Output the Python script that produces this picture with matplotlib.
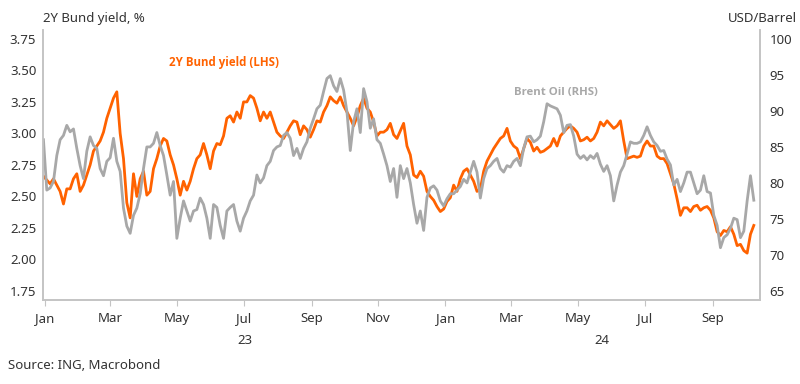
import pandas as pd
import matplotlib
matplotlib.use("Agg")
import matplotlib.pyplot as plt
import matplotlib.dates as mdates

plt.rcParams["font.family"] = ["Noto Sans", "DejaVu Sans"]

# 2Y Bund yield (%), roughly every 3 days from end Dec 2022
bund_2y = [
    2.66, 2.63, 2.60, 2.64, 2.59, 2.54, 2.44, 2.56, 2.56, 2.64,
    2.68, 2.54, 2.59, 2.67, 2.75, 2.86, 2.90, 2.94, 3.01, 3.12,
    3.20, 3.28, 3.33, 3.00, 2.80, 2.45, 2.33, 2.68, 2.50, 2.64,
    2.70, 2.51, 2.54, 2.72, 2.80,
    2.90, 2.96, 2.94, 2.83, 2.75, 2.64, 2.51, 2.62, 2.55, 2.62,
    2.72, 2.80, 2.83, 2.92, 2.83, 2.72, 2.86, 2.92, 2.91, 2.98,
    3.12, 3.14, 3.09, 3.17, 3.12, 3.25, 3.25, 3.30, 3.28, 3.20,
    3.10, 3.17, 3.12, 3.17, 3.09, 3.01,
    2.98, 2.96, 3.01, 3.06, 3.10, 3.09, 2.99, 3.06, 3.03, 2.97,
    3.03, 3.10, 3.09, 3.17, 3.22, 3.29, 3.26, 3.24, 3.29, 3.22,
    3.17, 3.12, 3.06, 3.13, 3.22, 3.28, 3.20, 3.17, 3.09, 2.98,
    3.01, 3.01, 3.03, 3.08, 2.99, 2.96,
    3.02, 3.08, 2.90, 2.83, 2.67, 2.65, 2.70, 2.66, 2.54, 2.50,
    2.47, 2.42, 2.38, 2.40, 2.46, 2.49, 2.59, 2.54, 2.64, 2.70,
    2.72, 2.67, 2.62, 2.54, 2.56, 2.70, 2.78, 2.83, 2.88, 2.92,
    2.96, 2.98, 3.04, 2.94, 2.90, 2.88,
    2.80, 2.88, 2.96, 2.93, 2.86, 2.89, 2.85, 2.86, 2.88, 2.90,
    2.96, 2.90, 2.98, 3.01, 3.04, 3.06, 3.04, 3.01, 2.94, 2.95,
    2.97, 2.94, 2.96, 3.01, 3.09, 3.06, 3.10, 3.07, 3.04, 3.06,
    3.10, 2.94, 2.80, 2.81, 2.82, 2.81,
    2.82, 2.90, 2.94, 2.90, 2.90, 2.82, 2.80, 2.80, 2.76, 2.68,
    2.60, 2.48, 2.35, 2.41, 2.41, 2.38, 2.42, 2.43, 2.39, 2.41,
    2.42, 2.39, 2.33, 2.22, 2.19, 2.23, 2.22, 2.26, 2.20, 2.11,
    2.12, 2.07, 2.05, 2.20, 2.27,
]

# Brent oil (USD/barrel), same dates
brent = [
    86.0, 79.0, 79.3, 80.2, 83.8, 86.0, 86.6, 88.0, 87.1, 87.5,
    84.8, 82.4, 80.6, 84.4, 86.4, 85.2, 84.8, 82.0, 81.0, 83.0,
    83.5, 86.2, 83.0, 81.6, 76.5, 74.0, 73.0, 75.5, 76.5, 78.5,
    82.0, 85.0, 85.0, 85.5, 87.0,
    85.2, 83.8, 81.1, 78.3, 80.2, 72.3, 75.1, 77.5, 76.1, 74.7,
    76.1, 76.3, 77.9, 77.0, 75.1, 72.3, 77.0, 76.6, 74.1, 72.3,
    76.1, 76.6, 77.0, 74.7, 73.3, 75.1, 76.1, 77.5, 78.3, 81.1,
    80.0, 80.7, 82.4, 83.0, 84.5, 85.0,
    85.2, 86.6, 87.0, 86.2, 83.8, 84.8, 83.4, 84.8, 85.7, 87.6,
    88.9, 90.3, 90.8, 92.7, 94.5, 94.9, 93.5, 92.7, 94.5, 92.9,
    89.9, 84.5, 88.5, 90.3, 87.0, 93.1, 91.3, 87.6, 88.9, 86.0,
    85.5, 84.0, 82.4, 80.2, 82.0, 78.0,
    82.4, 80.6, 82.0, 80.0, 77.0, 74.4, 76.1, 73.4, 78.0, 79.3,
    79.6, 79.0, 77.5, 76.8, 77.8, 78.5, 78.5, 79.0, 79.5, 80.5,
    80.0, 81.5, 83.0, 81.5, 77.9, 80.6, 82.0, 82.4, 83.0, 83.4,
    82.0, 81.5, 82.4, 82.2, 83.0, 83.4,
    82.4, 84.8, 86.4, 86.5, 85.7, 86.0, 86.5, 88.5, 91.0, 90.7,
    90.5, 90.3, 89.4, 87.0, 88.0, 88.1, 86.5, 84.0, 83.4, 83.8,
    83.2, 83.8, 83.4, 84.1, 82.6, 81.6, 82.4, 81.0, 77.5, 79.7,
    81.5, 82.4, 84.0, 85.7, 85.5, 85.5,
    85.7, 86.6, 87.8, 86.6, 85.7, 85.2, 84.4, 84.5, 83.3, 82.5,
    79.7, 80.5, 78.8, 80.0, 81.5, 81.5, 80.0, 78.5, 79.0, 81.0,
    78.8, 78.6, 75.5, 74.1, 71.0, 72.4, 72.8, 73.7, 75.1, 74.9,
    72.4, 73.3, 77.5, 81.0, 77.6,
]

dates = pd.date_range("2022-12-30 11:30", periods=len(bund_2y), freq="73h")

left_ticks = [1.75, 2.00, 2.25, 2.50, 2.75, 3.00, 3.25, 3.50, 3.75]
right_ticks = [65, 70, 75, 80, 85, 90, 95, 100]

ORANGE = "#FF6200"
GREY = "#A8A8A8"
TEXT = "#333333"
SPINE = "#C4C4C4"

fig = plt.figure(figsize=(8, 3.84), dpi=100)
ax = fig.add_axes([0.054, 0.219, 0.896, 0.703])
ax2 = ax.twinx()

ax.plot(dates, bund_2y, color=ORANGE, lw=2.0, solid_joinstyle="round")
ax2.plot(dates, brent, color=GREY, lw=2.0, solid_joinstyle="round")

ax.set_xlim(pd.Timestamp("2022-12-30 06:00"), pd.Timestamp("2024-10-14"))
ax.set_ylim(1.679, 3.821)
ax2.set_ylim(63.75, 101.25)
ax.set_yticks(left_ticks)
ax.set_yticklabels([f"{v:.2f}" for v in left_ticks])
ax2.set_yticks(right_ticks)

ax.xaxis.set_major_locator(mdates.MonthLocator(bymonth=[1, 3, 5, 7, 9, 11]))
ax.xaxis.set_major_formatter(mdates.DateFormatter("%b"))

for a in (ax, ax2):
    a.spines["top"].set_visible(False)
    for s in ("left", "right", "bottom"):
        a.spines[s].set_color(SPINE)
        a.spines[s].set_linewidth(1.2)
    a.tick_params(axis="y", length=0, labelsize=9.5, labelcolor=TEXT)
ax.tick_params(axis="y", pad=5)
ax2.tick_params(axis="y", pad=7)
ax.tick_params(axis="x", length=4, color=SPINE, labelsize=9.5,
               labelcolor=TEXT, pad=5)

# year labels under the months
for label, mid in (("23", "2023-07-02"), ("24", "2024-05-23")):
    ax.annotate(label, xy=(pd.Timestamp(mid), 0), xycoords=("data", "axes fraction"),
                xytext=(0, -29), textcoords="offset points", ha="center",
                va="center", fontsize=9.5, color=TEXT)

fig.text(0.054, 0.953, "2Y Bund yield, %", fontsize=9.5, color=TEXT, va="center")
fig.text(0.996, 0.953, "USD/Barrel", fontsize=9.5, color=TEXT, va="center", ha="right")
fig.text(0.28, 0.838, "2Y Bund yield (LHS)", fontsize=8.3, color=ORANGE,
         fontweight="bold", family=["Open Sans", "DejaVu Sans"],
         ha="center", va="center")
fig.text(0.695, 0.758, "Brent Oil (RHS)", fontsize=8.2, color=GREY,
         fontweight="bold", family=["Open Sans", "DejaVu Sans"],
         ha="center", va="center")
fig.text(0.01, 0.049, "Source: ING, Macrobond", fontsize=9.5, color=TEXT, va="center")

fig.savefig("out.png", dpi=100)
